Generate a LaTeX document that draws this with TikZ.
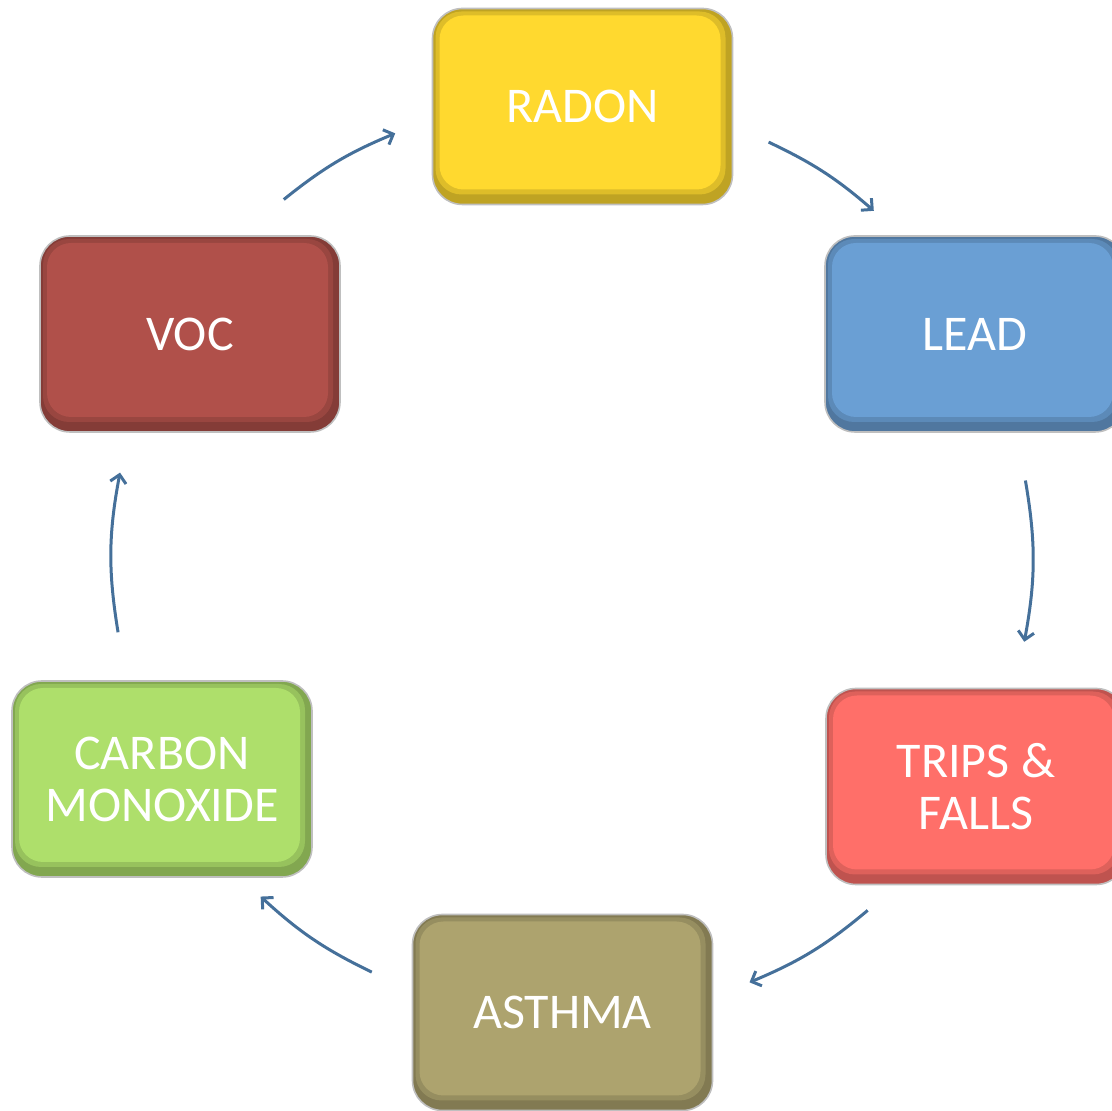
\documentclass[tikz,border=0pt]{standalone}
\usepackage{fontspec}
\usepackage{xcolor}
\usepackage{tikz}
\usetikzlibrary{shapes,calc,arrows.meta}
\newfontfamily\boxfont{Carlito}

\definecolor{radonC}{HTML}{FFD92F}
\definecolor{leadC}{HTML}{6A9FD4}
\definecolor{tripsC}{HTML}{FF6F69}
\definecolor{asthmaC}{HTML}{ADA36E}
\definecolor{carbonC}{HTML}{AEDF6B}
\definecolor{vocC}{HTML}{B0504A}
\definecolor{ringC}{HTML}{45709A}

\tikzset{
  hazard/.style={rounded corners=15pt, minimum width=150pt, minimum height=98pt,
    fill=#1!75!black, draw=gray!50, line width=0.8pt,
    text=white, font=\boxfont\fontsize{25}{26}\selectfont, align=center,
    path picture={
      \fill[#1!87!black, rounded corners=13pt]
        ([shift={(1.5pt,-1.5pt)}]path picture bounding box.north west) rectangle
        ([shift={(-3.5pt,5pt)}]path picture bounding box.south east);
      \fill[#1, rounded corners=12pt]
        ([shift={(3.5pt,-3.5pt)}]path picture bounding box.north west) rectangle
        ([shift={(-6pt,7.5pt)}]path picture bounding box.south east);}},
  ring/.style={ringC, line width=1.5pt, -{Straight Barb[length=4pt,width=8pt]}}
}

\begin{document}
\begin{tikzpicture}[x=0.5pt,y=0.5pt]
\useasboundingbox (0,0) rectangle (1112,1111);
\coordinate (hub) at (572,553);

\node[hazard=radonC] (radon) at (582.5,1004.5) {RADON};
\node[hazard=leadC] (lead) at (975,777) {LEAD};
\node[hazard=tripsC] (trips) at (976,324.5) {TRIPS \&\\FALLS};
\node[hazard=asthmaC] (asthma) at (562.5,98.5) {ASTHMA};
\node[hazard=carbonC] (carbon) at (162,332) {CARBON\\MONOXIDE};
\node[hazard=vocC] (voc) at (190,777) {VOC};

% arrows round the ring
\foreach \nm/\a/\b in {rl/64.7/49, lt/9.7/-10.5, ta/-50/-67.3, ac/-115.8/-132.6, cv/189.3/169.3, vr/128.8/112.6}{
  \path (hub) ++(\a:460) coordinate (\nm-s);
  \path (hub) ++(\b:460) coordinate (\nm-e);
  \pgfmathsetmacro{\bnd}{(\a-\b)/2}
  \draw[ring] (\nm-s) to[bend left=\bnd] (\nm-e);
}
\end{tikzpicture}
\end{document}
